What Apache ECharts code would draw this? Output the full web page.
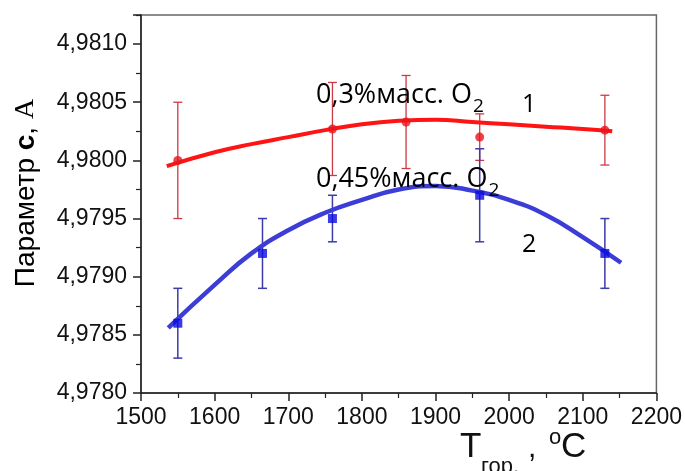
<!DOCTYPE html>
<html>
<head>
<meta charset="utf-8">
<script src="https://cdn.jsdelivr.net/npm/echarts@6/dist/echarts.min.js"></script>
<style>
  html, body { margin: 0; padding: 0; background: #fff; }
  #chart { width: 685px; height: 471px; }
</style>
</head>
<body>
<div id="chart"></div>
<script>
// Lattice parameter c vs. burning temperature, two oxygen contents
const temps1 = [1550, 1760, 1860, 1960, 2130];
const param1 = [4.9800, 4.98027, 4.98033, 4.9802, 4.98026];
const err1   = [0.0005, 0.0004, 0.0004, 0.0002, 0.0003];

const temps2 = [1550, 1665, 1760, 1960, 2130];
const param2 = [4.9786, 4.9792, 4.9795, 4.9797, 4.9792];
const err2   = [0.0003, 0.0003, 0.0002, 0.0004, 0.0003];

// fitted curves
const fit1T = [1535, 1600, 1650, 1700, 1750, 1800, 1850, 1900, 1950, 2000, 2050, 2100, 2140];
const fit1V = [4.97995, 4.98007, 4.98014, 4.98020, 4.98026, 4.98031, 4.98034, 4.98035, 4.98033, 4.98031, 4.98029, 4.98027, 4.98025];
const fit2T = [1537, 1600, 1650, 1700, 1750, 1800, 1850, 1900, 1950, 2000, 2050, 2100, 2152];
const fit2V = [4.97856, 4.97893, 4.97920, 4.97940, 4.97955, 4.97966, 4.97975, 4.97978, 4.97974, 4.97966, 4.97953, 4.97934, 4.97912];

const xTicks = { min: 1500, max: 2200, step: 100 };
const yTicks = { min: 4.9780, max: 4.98125, step: 0.0005 };

const seriesLabels = ['0,3%масс. O', '0,45%масс. O'];
const seriesNumbers = ['1', '2'];

const zip = (xs, ys) => xs.map((x, i) => [x, ys[i]]);
const zipErr = (xs, ys, es) => xs.map((x, i) => [x, ys[i], es[i]]);

function errorBars(color, width) {
  return function (params, api) {
    const x = api.value(0), y = api.value(1), e = api.value(2);
    const top = api.coord([x, y + e]);
    const bot = api.coord([x, y - e]);
    const hw = 4.5;
    const st = { stroke: color, lineWidth: width };
    return {
      type: 'group',
      children: [
        { type: 'line', shape: { x1: top[0], y1: top[1], x2: bot[0], y2: bot[1] }, style: st },
        { type: 'line', shape: { x1: top[0] - hw, y1: top[1], x2: top[0] + hw, y2: top[1] }, style: st },
        { type: 'line', shape: { x1: bot[0] - hw, y1: bot[1], x2: bot[0] + hw, y2: bot[1] }, style: st }
      ]
    };
  };
}

// text width helper for placing subscripts
const measureCtx = document.createElement('canvas').getContext('2d');
function textWidth(str, font) { measureCtx.font = font; return measureCtx.measureText(str).width; }

const annFont = '"Open Sans", sans-serif';
const annSize = 27;
const subSize = 19;

function annotation(str, left, baseline) {
  const w = textWidth(str, annSize + 'px ' + annFont);
  return [
    { type: 'text', left: left, top: baseline - 0.285 * annSize - annSize / 2, z: 100,
      style: { text: str, font: annSize + 'px ' + annFont, fill: '#000' } },
    { type: 'text', left: left + w + 1, top: baseline + 9 - 0.285 * subSize - subSize / 2, z: 100,
      style: { text: '2', font: subSize + 'px ' + annFont, fill: '#000' } }
  ];
}

const chart = echarts.init(document.getElementById('chart'), null, { renderer: 'canvas' });

const axisFont = { fontFamily: '"Liberation Sans", Arial, sans-serif', fontSize: 23, color: '#111' };

chart.setOption({
  animation: false,
  backgroundColor: '#fff',
  grid: { left: 141, right: 28, top: 15, bottom: 78, show: true, borderColor: '#666', borderWidth: 1.5 },
  xAxis: {
    type: 'value',
    min: xTicks.min, max: xTicks.max, interval: xTicks.step,
    axisLine: { show: true, onZero: false, lineStyle: { color: '#222', width: 1.5 } },
    axisTick: { show: true, inside: false, length: 8, lineStyle: { color: '#222', width: 1.5 } },
    minorTick: { show: true, splitNumber: 2, length: 5, lineStyle: { color: '#222', width: 1.2 } },
    splitLine: { show: false },
    axisLabel: Object.assign({ margin: 13, formatter: function (v) { return String(v); } }, axisFont)
  },
  yAxis: {
    type: 'value',
    min: yTicks.min, max: yTicks.max, interval: yTicks.step,
    axisLine: { show: true, onZero: false, lineStyle: { color: '#222', width: 1.5 } },
    axisTick: { show: true, inside: false, length: 8, lineStyle: { color: '#222', width: 1.5 } },
    minorTick: { show: true, splitNumber: 2, length: 5, lineStyle: { color: '#222', width: 1.2 } },
    splitLine: { show: false },
    axisLabel: Object.assign({
      margin: 14,
      formatter: function (v) {
        const k = (v - yTicks.min) / yTicks.step;
        if (Math.abs(k - Math.round(k)) > 1e-6) return '';
        return v.toFixed(4).replace('.', ',');
      }
    }, axisFont)
  },
  series: [
    {
      type: 'custom', name: 'err1', renderItem: errorBars('#cc3a44', 1.3),
      data: zipErr(temps1, param1, err1), encode: { x: 0, y: 1 }, z: 1
    },
    {
      type: 'custom', name: 'err2', renderItem: errorBars('#3b3bab', 1.5),
      data: zipErr(temps2, param2, err2), encode: { x: 0, y: 1 }, z: 1
    },
    {
      type: 'line', name: 'fit1', data: zip(fit1T, fit1V), smooth: 0.5, showSymbol: false,
      lineStyle: { color: '#ff1414', width: 4 }, z: 2
    },
    {
      type: 'line', name: 'fit2', data: zip(fit2T, fit2V), smooth: 0.5, showSymbol: false,
      lineStyle: { color: '#3c3cd6', width: 4.5 }, z: 2
    },
    {
      type: 'scatter', name: 'c1', data: zip(temps1, param1), symbol: 'circle', symbolSize: 9,
      itemStyle: { color: '#e8141c' }, z: 3
    },
    {
      type: 'scatter', name: 'c2', data: zip(temps2, param2), symbol: 'rect', symbolSize: 9,
      itemStyle: { color: '#0a0ae0' }, z: 3
    }
  ],
  graphic: [].concat(
    annotation(seriesLabels[0], 316, 103),
    annotation(seriesLabels[1], 316, 187),
    [
      { type: 'text', left: 522, top: 112 - 0.285 * 25 - 12.5, z: 100,
        style: { text: seriesNumbers[0], font: '25px ' + annFont, fill: '#000' } },
      { type: 'text', left: 522, top: 252 - 0.285 * 25 - 12.5, z: 100,
        style: { text: seriesNumbers[1], font: '25px ' + annFont, fill: '#000' } },
      // y axis title
      {
        type: 'text', x: 26, y: 193, rotation: Math.PI / 2, z: 100,
        style: {
          text: '{n|Параметр }{b|c}{n|, }{a|A}',
          align: 'center', verticalAlign: 'middle',
          rich: {
            n: { fontFamily: '"Liberation Sans", Arial, sans-serif', fontSize: 28, color: '#111' },
            b: { fontFamily: '"Liberation Sans", Arial, sans-serif', fontSize: 28, fontWeight: 'bold', color: '#111' },
            a: { fontFamily: '"Liberation Serif", serif', fontSize: 28, color: '#111' }
          }
        }
      },
      // x axis title
      { type: 'text', left: 460, top: 458 - 0.31 * 35 - 17.5, z: 100,
        style: { text: 'T', font: '35px "Liberation Sans", Arial, sans-serif', fill: '#111' } },
      { type: 'text', left: 481, top: 474 - 0.31 * 22 - 11, z: 100,
        style: { text: 'гор.', font: '22px "Liberation Sans", Arial, sans-serif', fill: '#111' } },
      { type: 'text', left: 528, top: 458 - 0.31 * 30 - 15, z: 100,
        style: { text: ',', font: '30px "Liberation Sans", Arial, sans-serif', fill: '#111' } },
      { type: 'text', left: 549, top: 445 - 0.31 * 22 - 11, z: 100,
        style: { text: 'o', font: '22px "Liberation Sans", Arial, sans-serif', fill: '#111' } },
      { type: 'text', left: 561, top: 458 - 0.31 * 35 - 17.5, z: 100,
        style: { text: 'C', font: '35px "Liberation Sans", Arial, sans-serif', fill: '#111' } }
    ]
  )
});
</script>
</body>
</html>
